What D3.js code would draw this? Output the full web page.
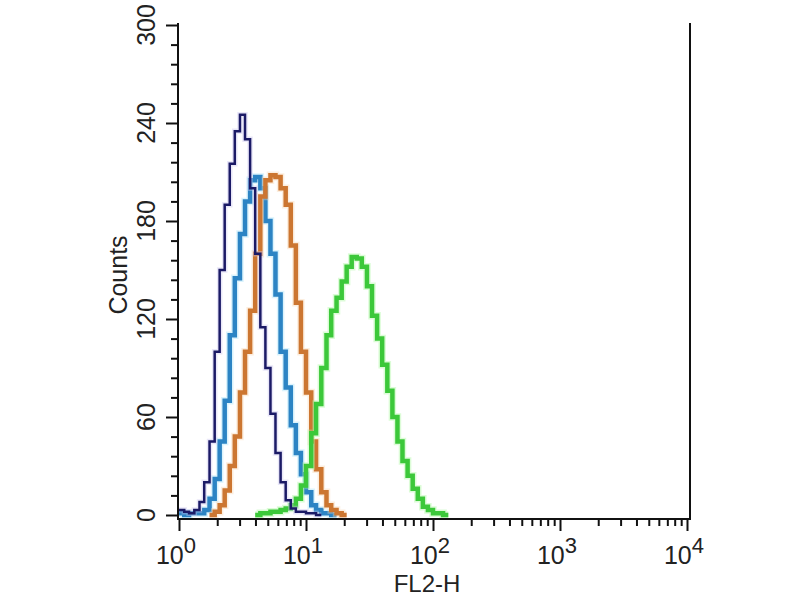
<!DOCTYPE html>
<html>
<head>
<meta charset="utf-8">
<script src="https://cdn.jsdelivr.net/npm/d3@7"></script>
<style>
  body { margin: 0; background: #fff; }
  svg { display: block; }
  text { font-family: "Liberation Sans", Arial, sans-serif; fill: #222; }
</style>
</head>
<body>
<svg id="chart" width="800" height="600"></svg>
<script>
// histogram channel edges (FL2-H), 0.04 decade bins
const channels = [1.00, 1.10, 1.20, 1.32, 1.45, 1.58, 1.74, 1.91, 2.09, 2.29,
  2.51, 2.75, 3.02, 3.31, 3.63, 3.98, 4.37, 4.79, 5.25, 5.75,
  6.31, 6.92, 7.59, 8.32, 9.12, 10.0, 11.0, 12.0, 13.2, 14.5,
  15.8, 17.4, 19.1, 20.9, 22.9, 25.1, 27.5, 30.2, 33.1, 36.3,
  39.8, 43.7, 47.9, 52.5, 57.5, 63.1, 69.2, 75.9, 83.2, 91.2,
  100, 110, 120, 132, 145, 158];

// counts per bin, starting at the first channel
const navyCounts = [3, 2, 1, 3, 8, 20, 45, 100, 150, 190, 215, 235, 245, 230, 200,
  160, 115, 90, 62, 38, 20, 9, 4, 2, 2, 1, 1, 0];
const blueCounts = [1, 0, 1, 1, 1, 3, 10, 22, 45, 70, 110, 145, 172, 192, 205,
  207, 200, 180, 160, 135, 100, 78, 55, 38, 25, 14, 6, 3, 1, 1, 0];
const orangeCounts = [0, 0, 0, 0, 0, 0, 0, 2, 6, 15, 30, 48, 75, 100, 125,
  160, 195, 205, 208, 207, 200, 190, 165, 130, 100, 75, 45, 28, 14, 6,
  3, 1, 0];
const greenCounts = [0, 0, 0, 0, 0, 0, 0, 0, 0, 0, 0, 0, 0, 0, 0,
  0, 1, 1, 2, 2, 3, 4, 6, 10, 18, 30, 50, 68, 90, 110,
  125, 133, 143, 152, 158, 157, 152, 140, 122, 108, 92, 76, 60, 45, 33,
  24, 16, 10, 5, 3, 1, 1, 0];

const yMajor = [0, 60, 120, 180, 240, 300];
const xMajor = [1, 10, 100, 1000, 10000];
const xExp = ["0", "1", "2", "3", "4"];

const series = [
  { name: "blue", counts: blueCounts, color: "#2c84c4", halo: "#a5e2f8", width: 4.5 },
  { name: "orange", counts: orangeCounts, color: "#cc7631", halo: "#f8d4b0", width: 4.5 },
  { name: "green", counts: greenCounts, color: "#3cc83a", halo: "#a8f79a", width: 4.5 },
  { name: "navy", counts: navyCounts, color: "#1b1a66", halo: "#c9c4ee", width: 2.5 }
];

const svg = d3.select("#chart");

const x = d3.scaleLog().domain([1, 1e4]).range([179, 687]);
const y = d3.scaleLinear().domain([0, 300]).range([515, 25]);
const axisY = 519;

// histogram lines
const line = d3.line()
  .x(d => x(d[0]))
  .y(d => y(d[1]))
  .curve(d3.curveStepAfter);

const pts = counts => {
  const p = counts.map((c, i) => [channels[i], c]);
  p.push([channels[counts.length], counts[counts.length - 1]]);
  // drop the empty leading bins
  const first = Math.max(0, counts.findIndex(c => c > 0) - 1);
  return p.slice(first);
};

const g = svg.append("g");
series.forEach(s => {
  g.append("path")
    .attr("d", line(pts(s.counts)))
    .attr("fill", "none")
    .attr("stroke", s.halo)
    .attr("stroke-width", s.width + 3)
    .attr("stroke-opacity", 0.4);
  g.append("path")
    .attr("d", line(pts(s.counts)))
    .attr("fill", "none")
    .attr("stroke", s.color)
    .attr("stroke-width", s.width);
});

// y axis
const yMinor = d3.range(0, 301, 12).filter(v => v % 60 !== 0);
const yAx = svg.append("g").attr("transform", `translate(${x.range()[0] - 1},0)`);
yAx.append("g").call(d3.axisLeft(y).tickValues(yMajor).tickSize(12).tickFormat(""))
  .call(a => a.select(".domain").remove());
yAx.append("g").call(d3.axisLeft(y).tickValues(yMinor).tickSize(7).tickFormat(""))
  .call(a => a.select(".domain").remove());
yAx.selectAll("line").attr("stroke", "#111").attr("stroke-width", 2);
yAx.append("line")
  .attr("y1", y(300) - 2).attr("y2", axisY)
  .attr("stroke", "#111").attr("stroke-width", 2);

yAx.selectAll(".ylab")
  .data(yMajor)
  .join("text")
  .attr("class", "ylab")
  .attr("transform", d => `translate(-23,${y(d)}) rotate(-90)`)
  .attr("text-anchor", "middle")
  .style("font-size", "25px")
  .text(d => d);

// x axis
const xMinor = [];
[1, 10, 100, 1000].forEach(dec => [2, 3, 4, 5, 6, 7, 8, 9].forEach(m => xMinor.push(dec * m)));
const xAx = svg.append("g").attr("transform", `translate(0,${axisY})`);
xAx.append("g").call(d3.axisBottom(x).tickValues(xMajor).tickSize(12).tickFormat(""))
  .call(a => a.select(".domain").remove());
xAx.append("g").call(d3.axisBottom(x).tickValues(xMinor).tickSize(7).tickFormat(""))
  .call(a => a.select(".domain").remove());
xAx.selectAll("line").attr("stroke", "#111").attr("stroke-width", 2);
xAx.append("line")
  .attr("x1", x.range()[0] - 2).attr("x2", x.range()[1] + 4)
  .attr("stroke", "#111").attr("stroke-width", 2);

const xl = xAx.selectAll(".xlab")
  .data(xMajor)
  .join("text")
  .attr("class", "xlab")
  .attr("x", d => x(d) - 3)
  .attr("y", 45)
  .attr("text-anchor", "middle")
  .style("font-size", "25px");
xl.append("tspan").text("10");
xl.append("tspan").attr("dy", -11).style("font-size", "22px").text((d, i) => xExp[i]);

// right border
svg.append("line")
  .attr("x1", x.range()[1] + 3).attr("x2", x.range()[1] + 3)
  .attr("y1", y(300) - 2).attr("y2", axisY)
  .attr("stroke", "#111").attr("stroke-width", 2);

// axis titles
svg.append("text")
  .attr("x", 427).attr("y", 592)
  .attr("text-anchor", "middle")
  .style("font-size", "24px")
  .text("FL2-H");

svg.append("text")
  .attr("transform", "translate(127,275) rotate(-90)")
  .attr("text-anchor", "middle")
  .style("font-size", "25px")
  .text("Counts");
</script>
</body>
</html>
